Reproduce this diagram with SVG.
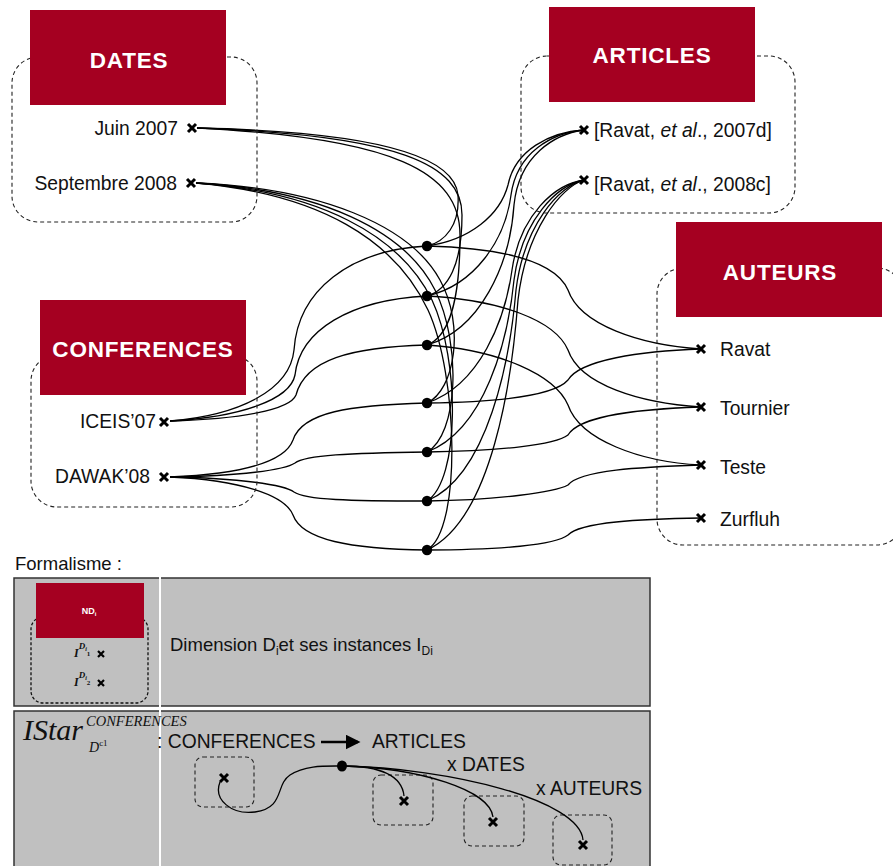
<svg xmlns="http://www.w3.org/2000/svg" width="893" height="866" viewBox="0 0 893 866">
<style>
.title{font-family:"Liberation Sans",Arial,sans-serif;font-weight:bold;font-size:22.5px;fill:#fff;text-anchor:middle;letter-spacing:0.8px}
.item{font-family:"Liberation Sans",Arial,sans-serif;font-size:19.3px;fill:#111}
.dim{fill:#a50021}
.dash{fill:none;stroke:#222;stroke-width:1.1;stroke-dasharray:4,3}
.c{fill:none;stroke:#000;stroke-width:1.3}
.dot{fill:#000}
.xm{fill:none;stroke:#000;stroke-width:3;stroke-linecap:butt}
.leg{font-family:"Liberation Sans",Arial,sans-serif;font-size:18.5px;fill:#111}
.serif{font-family:"Liberation Serif","Times New Roman",serif;font-style:italic;fill:#111}
</style>
<defs>
<path id="x" class="xm" d="M-4,-4 L4,4 M4,-4 L-4,4"/>
<path id="xs" style="fill:none;stroke:#000;stroke-width:2.2" d="M-3,-3 L3,3 M3,-3 L-3,3"/>
<marker id="ah" markerWidth="6" markerHeight="6" refX="5" refY="3" orient="auto" markerUnits="strokeWidth"><path d="M0,0 L6,3 L0,6 z" fill="#000"/></marker>
</defs>
<rect width="893" height="866" fill="#fff"/>

<g id="connectors">
<!-- dates -->
<path class="c" d="M197,128 C390,132 455,160 458,195 C460,225 445,242 427,246"/>
<path class="c" d="M197,128 C400,135 462,165 462,215 C462,265 448,290 427,296"/>
<path class="c" d="M197,128 C395,138 460,172 460,235 C460,305 448,337 427,345"/>
<path class="c" d="M196,183 C320,188 410,225 440,280 C465,325 455,390 427,403"/>
<path class="c" d="M196,183 C320,190 405,230 435,290 C462,345 458,435 427,452"/>
<path class="c" d="M196,183 C320,192 400,235 432,300 C460,360 460,480 427,501"/>
<path class="c" d="M196,183 C320,194 395,240 428,310 C458,375 462,530 427,550"/>
<!-- articles -->
<path class="c" d="M427,246 C470,240 500,215 508,185 C515,150 550,132 584,130"/>
<path class="c" d="M427,296 C475,285 505,240 511,195 C517,152 552,133 584,130"/>
<path class="c" d="M427,345 C480,330 510,265 514,205 C519,155 555,134 584,130"/>
<path class="c" d="M427,403 C480,385 505,320 512,270 C520,215 555,184 584,180"/>
<path class="c" d="M427,452 C485,430 508,340 514,280 C522,220 557,185 584,180"/>
<path class="c" d="M427,501 C488,475 510,360 516,290 C524,225 559,186 584,180"/>
<path class="c" d="M427,550 C492,520 512,380 518,300 C526,230 561,187 584,180"/>
<!-- authors -->
<path class="c" d="M427,246 C500,248 555,260 568,290 C580,325 640,345 701,349"/>
<path class="c" d="M427,296 C500,300 555,320 568,350 C580,385 640,403 701,407"/>
<path class="c" d="M427,345 C500,350 555,375 568,405 C580,440 640,462 701,465"/>
<path class="c" d="M427,403 C500,402 555,395 568,380 C580,360 640,351 701,349"/>
<path class="c" d="M427,452 C500,451 555,445 568,435 C580,415 640,409 701,407"/>
<path class="c" d="M427,501 C500,500 555,492 568,485 C580,470 640,467 701,465"/>
<path class="c" d="M427,550 C500,550 555,545 568,535 C580,522 640,519 701,518"/>
<!-- conferences -->
<path class="c" d="M170,421 C240,415 290,390 294,350 C298,290 350,250 427,246"/>
<path class="c" d="M170,421 C240,417 290,400 295,375 C300,330 350,300 427,296"/>
<path class="c" d="M170,421 C240,419 290,410 296,395 C305,360 350,347 427,345"/>
<path class="c" d="M170,477 C240,474 285,462 293,440 C302,412 350,405 427,403"/>
<path class="c" d="M170,477 C240,476 285,470 295,463 C305,455 350,453 427,452"/>
<path class="c" d="M170,477 C240,478 285,485 294,492 C305,500 350,501 427,501"/>
<path class="c" d="M170,477 C240,480 285,495 293,515 C302,540 350,549 427,550"/>
</g>

<g id="facts">
<circle class="dot" cx="427" cy="246" r="5.2"/>
<circle class="dot" cx="427" cy="296" r="5.2"/>
<circle class="dot" cx="427" cy="345" r="5.2"/>
<circle class="dot" cx="427" cy="403" r="5.2"/>
<circle class="dot" cx="427" cy="452" r="5.2"/>
<circle class="dot" cx="427" cy="501" r="5.2"/>
<circle class="dot" cx="427" cy="550" r="5.2"/>
</g>

<g id="dates">
<rect class="dash" x="12" y="57" width="245" height="165" rx="26"/>
<rect class="dim" x="30" y="10" width="196" height="95"/>
<text class="title" x="129" y="68">DATES</text>
<text class="item" x="178" y="135" text-anchor="end">Juin 2007</text>
<use href="#x" x="192" y="128"/>
<text class="item" x="177" y="190" text-anchor="end">Septembre 2008</text>
<use href="#x" x="191" y="183"/>
</g>

<g id="articles">
<rect class="dash" x="521" y="56" width="274" height="157" rx="26"/>
<rect class="dim" x="549" y="7" width="206" height="95"/>
<text class="title" x="652" y="63">ARTICLES</text>
<use href="#x" x="584" y="130"/>
<text class="item" x="594" y="137">[Ravat, <tspan font-style="italic">et al</tspan>., 2007d]</text>
<use href="#x" x="584" y="180"/>
<text class="item" x="594" y="191">[Ravat, <tspan font-style="italic">et al</tspan>., 2008c]</text>
</g>

<g id="auteurs">
<rect class="dash" x="657" y="268" width="246" height="277" rx="26"/>
<rect class="dim" x="676" y="222" width="206" height="95"/>
<text class="title" x="780" y="280">AUTEURS</text>
<use href="#x" x="701" y="349"/>
<text class="item" x="720" y="356">Ravat</text>
<use href="#x" x="701" y="407"/>
<text class="item" x="720" y="415">Tournier</text>
<use href="#x" x="701" y="465"/>
<text class="item" x="720" y="474">Teste</text>
<use href="#x" x="701" y="518"/>
<text class="item" x="720" y="526">Zurfluh</text>
</g>

<g id="conferences">
<rect class="dash" x="31" y="355" width="226" height="152" rx="26"/>
<rect class="dim" x="40" y="300" width="206" height="95"/>
<text class="title" x="143" y="357">CONFERENCES</text>
<text class="item" x="156" y="428" text-anchor="end">ICEIS’07</text>
<use href="#x" x="164" y="422"/>
<text class="item" x="150" y="483" text-anchor="end">DAWAK’08</text>
<use href="#x" x="164" y="477"/>
</g>

<g id="legend">
<text class="leg" x="15" y="570" font-size="17.5">Formalisme :</text>
<rect x="14" y="578" width="636" height="128" fill="#c0c0c0" stroke="#333" stroke-width="1.5"/>
<rect x="14" y="711" width="636" height="160" fill="#c0c0c0" stroke="#333" stroke-width="1.5"/>
<line x1="160" y1="577" x2="160" y2="866" stroke="#fff" stroke-width="2"/>
<rect x="31" y="617" width="117" height="86" rx="12" fill="none" stroke="#111" stroke-width="1.3" stroke-dasharray="3,2"/>
<rect class="dim" x="36" y="583" width="108" height="55"/>
<text x="89" y="614" font-family="Liberation Sans,Arial,sans-serif" font-weight="bold" font-size="9" fill="#fff" text-anchor="middle">ND<tspan font-size="6" dy="2">i</tspan></text>
<text class="serif" x="74" y="657" font-size="12" font-weight="bold">I<tspan font-size="9" dy="-8">D</tspan><tspan font-size="6" dy="2">i</tspan><tspan font-size="7" dy="5" font-style="normal">1</tspan></text>
<use href="#xs" x="101" y="654"/>
<text class="serif" x="74" y="686" font-size="12" font-weight="bold">I<tspan font-size="9" dy="-8">D</tspan><tspan font-size="6" dy="2">i</tspan><tspan font-size="7" dy="5" font-style="normal">2</tspan></text>
<use href="#xs" x="101" y="683"/>
<text class="leg" x="170" y="651">Dimension D<tspan font-size="12" dy="4">i</tspan><tspan dy="-4">et ses instances I</tspan><tspan font-size="12" dy="4">Di</tspan></text>

<text class="serif" x="23" y="740" font-size="30">IStar</text>
<text class="serif" x="86" y="726" font-size="14.5">CONFERENCES</text>
<text class="serif" x="89" y="752" font-size="14">D<tspan font-size="9" dy="-6" font-style="normal">c1</tspan></text>
<text class="item" x="157" y="748">: CONFERENCES</text>
<line x1="321" y1="742" x2="358" y2="742" stroke="#000" stroke-width="2.5" marker-end="url(#ah)"/>
<text class="item" x="372" y="748">ARTICLES</text>
<text class="item" x="447" y="771">x DATES</text>
<text class="item" x="536" y="795">x AUTEURS</text>
<rect class="dash" x="195" y="757" width="59" height="50" rx="8"/>
<rect class="dash" x="373" y="775" width="60" height="50" rx="8"/>
<rect class="dash" x="464" y="796" width="60" height="50" rx="8"/>
<rect class="dash" x="553" y="815" width="59" height="50" rx="8"/>
<use href="#x" x="224" y="778"/>
<use href="#x" x="404" y="801"/>
<use href="#x" x="493" y="822"/>
<use href="#x" x="583" y="845"/>
<path class="c" d="M220,782 C213,800 232,815 255,812 C285,808 275,785 290,775 C305,765 325,766 342,766"/>
<path class="c" d="M342,766 C380,766 402,775 404,796"/>
<path class="c" d="M342,766 C420,768 490,790 493,817"/>
<path class="c" d="M342,766 C450,768 580,800 583,840"/>
<ellipse cx="342" cy="766" rx="5" ry="5.5" fill="#000"/>
</g>
</svg>
